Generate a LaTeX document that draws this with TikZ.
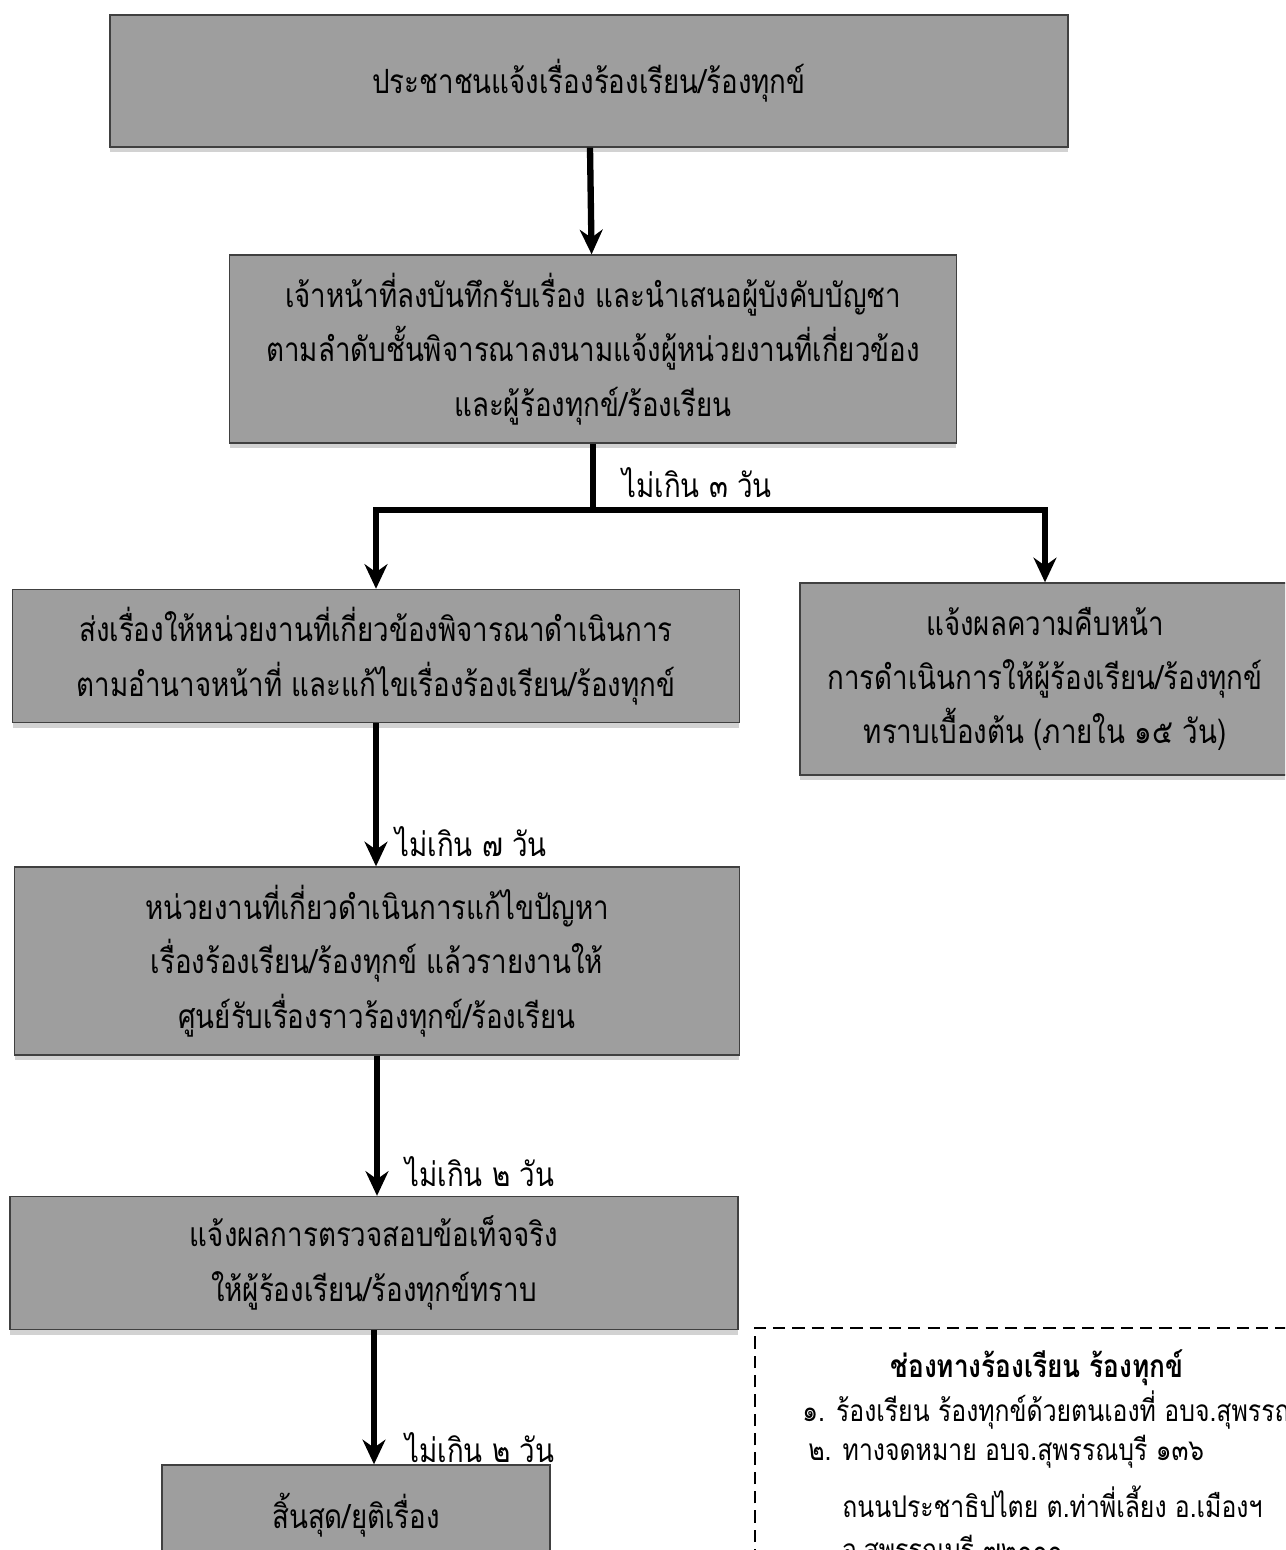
\documentclass[tikz,border=0pt]{standalone}
\usepackage{fontspec}
\newfontfamily\thaifont[Script=Thai,FakeStretch=0.83]{Loma}
\usetikzlibrary{arrows.meta,shadows}

\tikzset{
  stepbox/.style={rectangle,draw=black!75,line width=0.8pt,fill=black!38,
    drop shadow={opacity=0.35,shadow xshift=0pt,shadow yshift=-3pt},
    align=center,font=\thaifont\fontsize{19}{31}\selectfont,inner sep=2pt},
  flowarrow/.style={line width=3.6pt,-{Stealth[length=14pt,width=13pt]}},
  flowline/.style={line width=3.6pt},
  daylabel/.style={anchor=west,font=\thaifont\fontsize{19}{24}\selectfont,inner sep=0pt},
  notetext/.style={anchor=west,font=\thaifont\fontsize{17}{22}\selectfont,inner sep=0pt}
}

\begin{document}
\begin{tikzpicture}[x=0.02cm,y=-0.02cm]
  \useasboundingbox (0,0) rectangle (1285,1550);
  \clip (0,0) rectangle (1285,1550);
  \fill[white] (0,0) rectangle (1285,1550);

  % steps
  \node[stepbox,minimum width=19.16cm,minimum height=2.64cm] (report) at (589,81)
    {ประชาชนแจ้งเรื่องร้องเรียน/ร้องทุกข์};
  \node[stepbox,minimum width=14.54cm,minimum height=3.76cm] (record) at (593,349)
    {เจ้าหน้าที่ลงบันทึกรับเรื่อง และนำเสนอผู้บังคับบัญชา\\
     ตามลำดับชั้นพิจารณาลงนามแจ้งผู้หน่วยงานที่เกี่ยวข้อง\\
     และผู้ร้องทุกข์/ร้องเรียน};
  \node[stepbox,minimum width=14.54cm,minimum height=2.66cm] (forward) at (376,656)
    {ส่งเรื่องให้หน่วยงานที่เกี่ยวข้องพิจารณาดำเนินการ\\
     ตามอำนาจหน้าที่ และแก้ไขเรื่องร้องเรียน/ร้องทุกข์};
  \node[stepbox,minimum width=9.8cm,minimum height=3.84cm] (progress) at (1045,679)
    {แจ้งผลความคืบหน้า\\
     การดำเนินการให้ผู้ร้องเรียน/ร้องทุกข์\\
     ทราบเบื้องต้น (ภายใน ๑๕ วัน)};
  \node[stepbox,minimum width=14.5cm,minimum height=3.76cm] (solve) at (377,961)
    {หน่วยงานที่เกี่ยวดำเนินการแก้ไขปัญหา\\
     เรื่องร้องเรียน/ร้องทุกข์ แล้วรายงานให้\\
     ศูนย์รับเรื่องราวร้องทุกข์/ร้องเรียน};
  \node[stepbox,minimum width=14.56cm,minimum height=2.66cm] (inform) at (374,1263)
    {แจ้งผลการตรวจสอบข้อเท็จจริง\\
     ให้ผู้ร้องเรียน/ร้องทุกข์ทราบ};
  \node[stepbox,minimum width=7.76cm,minimum height=2.0cm] (close) at (356,1515)
    {สิ้นสุด/ยุติเรื่อง};

  % connectors
  \coordinate (split) at (593,510);
  \draw[flowarrow] (report) -- (record);
  \draw[flowline] (record.south) -- (split);
  \draw[flowarrow] (split) -| (forward.north);
  \draw[flowarrow] (split) -| (progress.north);
  \draw[flowarrow] (forward.south) -- (forward.south |- solve.north);
  \draw[flowarrow] (solve.south) -- (solve.south |- inform.north);
  \draw[flowarrow] (inform.south) -- (inform.south |- close.north);

  % time limits
  \node[daylabel] (day3) at (622,483) {ไม่เกิน ๓ วัน};
  \node[daylabel] (day7) at (395,842) {ไม่เกิน ๗ วัน};
  \node[daylabel] (day2a) at (405,1172) {ไม่เกิน ๒ วัน};
  \node[daylabel] (day2b) at (405,1448) {ไม่เกิน ๒ วัน};

  % channels
  \draw[line width=1pt,dash pattern=on 7pt off 4pt] (755,1600) -- (755,1328) -- (1300,1328);
  \node[font=\thaifont\bfseries\fontsize{18}{24}\selectfont,inner sep=0pt] (chtitle) at (1037,1368)
    {ช่องทางร้องเรียน ร้องทุกข์};
  \node[notetext] (ch1) at (802,1410) {๑. ร้องเรียน ร้องทุกข์ด้วยตนเองที่ อบจ.สุพรรณบุรี};
  \node[notetext] (ch2) at (808,1452) {๒. ทางจดหมาย อบจ.สุพรรณบุรี ๑๓๖};
  \node[notetext] (ch2b) at (842,1502) {ถนนประชาธิปไตย ต.ท่าพี่เลี้ยง อ.เมืองฯ};
  \node[notetext] (ch2c) at (842,1552) {จ.สุพรรณบุรี ๗๒๐๐๐};
\end{tikzpicture}
\end{document}
